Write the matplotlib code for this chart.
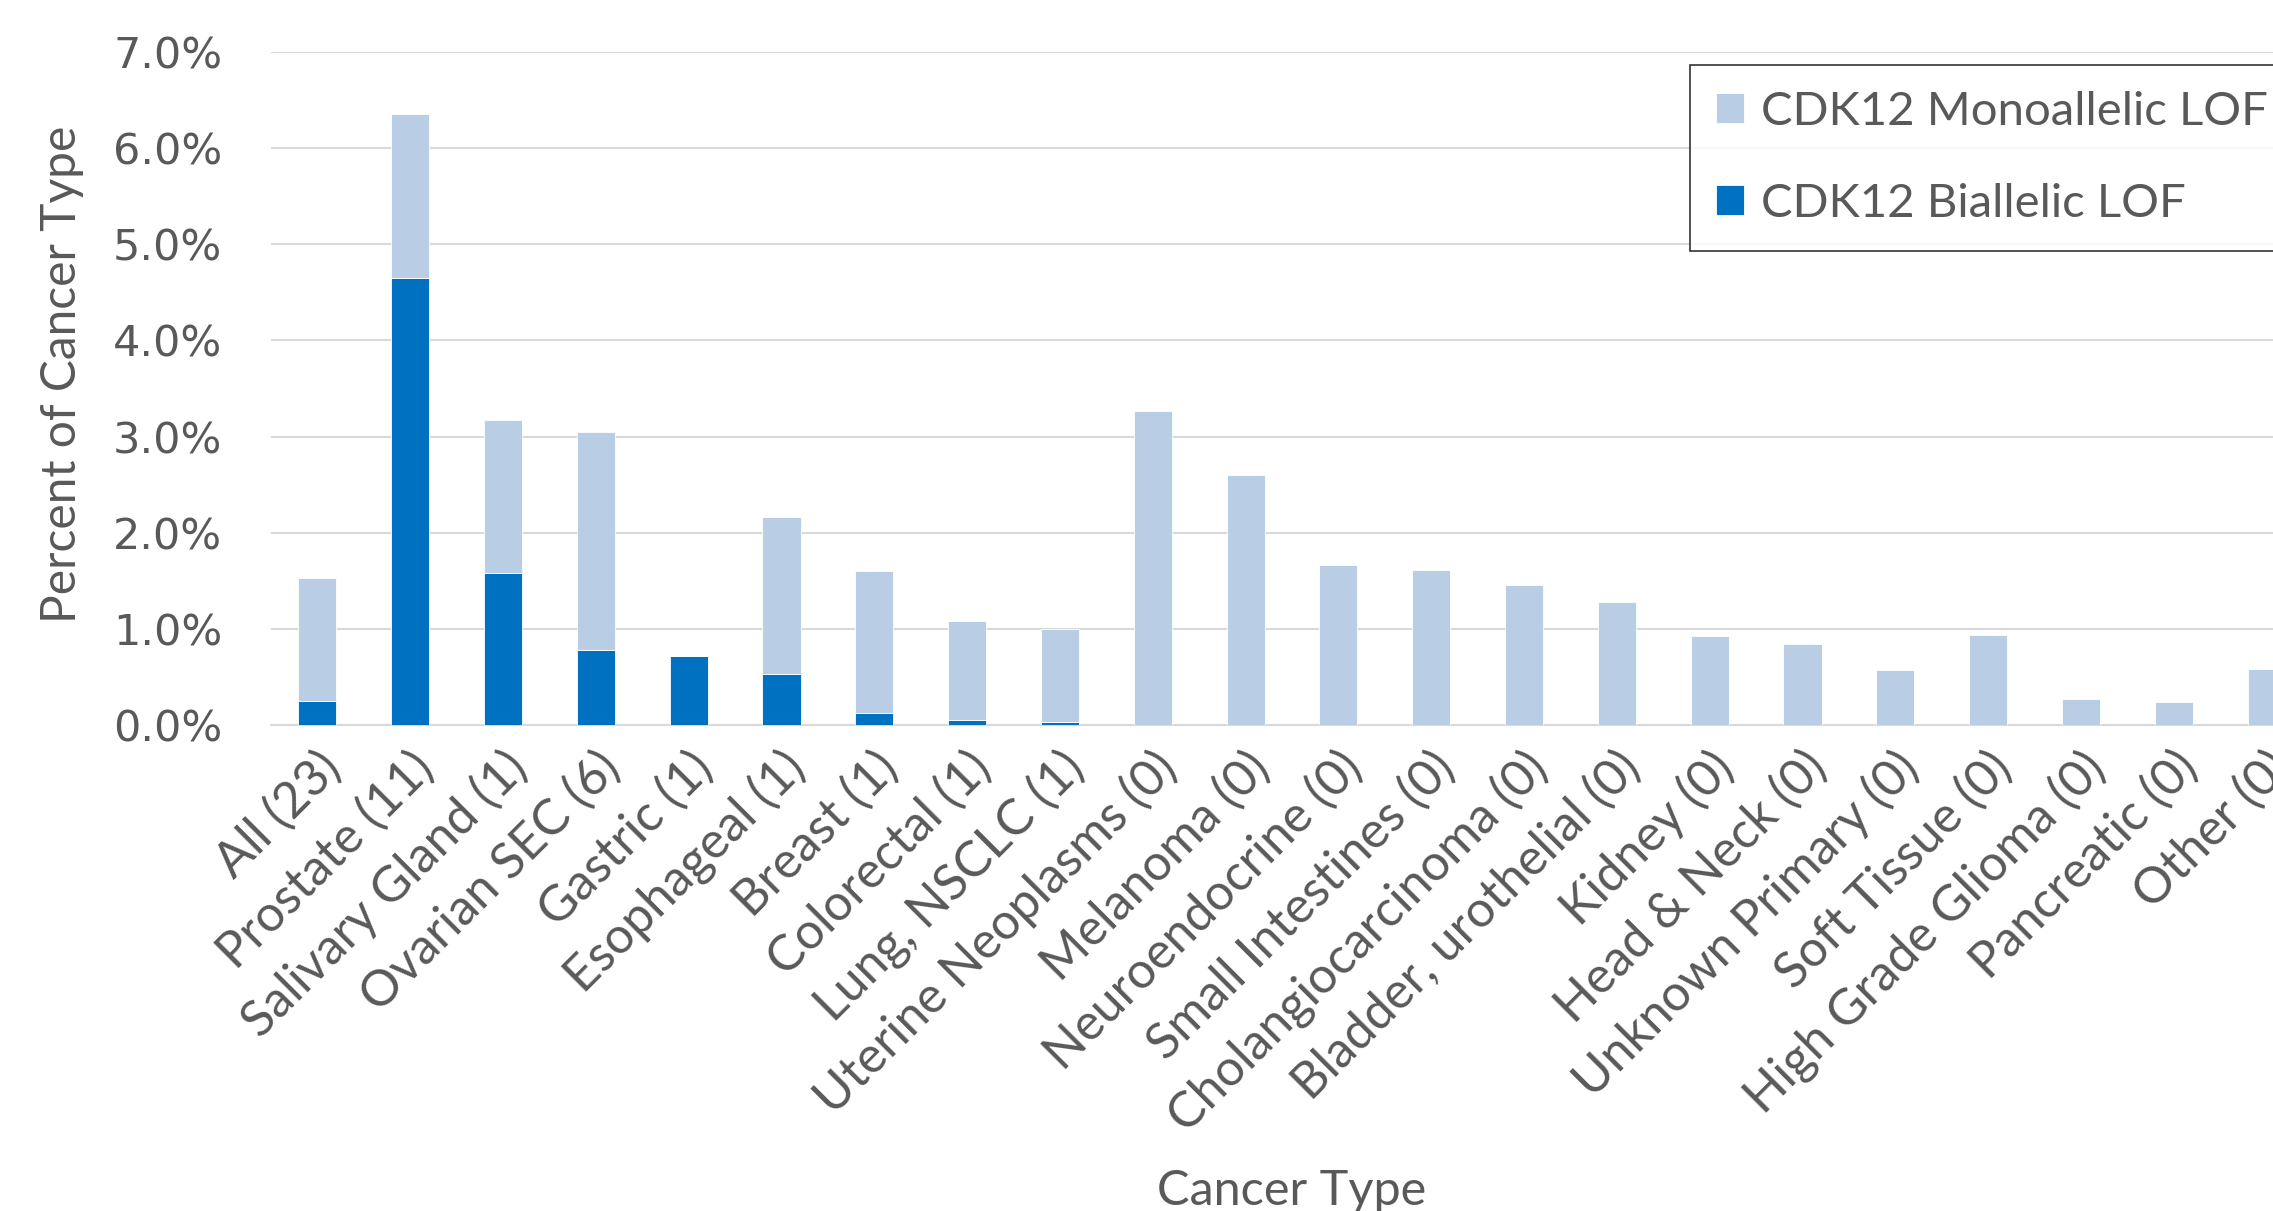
import matplotlib
matplotlib.use("Agg")
import matplotlib.pyplot as plt
import matplotlib.transforms as mtransforms
from matplotlib.ticker import PercentFormatter, MultipleLocator
import numpy as np

categories = ["All (23)", "Prostate (11)", "Salivary Gland (1)", "Ovarian SEC (6)",
              "Gastric (1)", "Esophageal (1)", "Breast (1)", "Colorectal (1)",
              "Lung, NSCLC (1)", "Uterine Neoplasms (0)", "Melanoma (0)",
              "Neuroendocrine (0)", "Small Intestines (0)", "Cholangiocarcinoma (0)",
              "Bladder, urothelial (0)", "Kidney (0)", "Head & Neck (0)",
              "Unknown Primary (0)", "Soft Tissue (0)", "High Grade Glioma (0)",
              "Pancreatic (0)", "Other (0)"]

# percent of each cancer type
biallelic = [0.245, 4.65, 1.58, 0.785, 0.72, 0.53, 0.12, 0.056, 0.035,
             0, 0, 0, 0, 0, 0, 0, 0, 0, 0, 0, 0, 0]
monoallelic = [1.285, 1.70, 1.59, 2.265, 0, 1.635, 1.485, 1.024, 0.96,
               3.27, 2.60, 1.665, 1.613, 1.456, 1.279, 0.923, 0.847,
               0.568, 0.934, 0.272, 0.244, 0.582]

BI_COLOR = "#0070C0"
MONO_COLOR = "#B9CDE5"
TXT = "#595959"
GRID = "#D9D9D9"
FONT = "Lato"

W, H = 2273, 1211
fig = plt.figure(figsize=(W / 100, H / 100), dpi=100)
# plot area runs a bit past the right edge of the figure
left, right, top, bottom = 271, 2313, 52, 725
ax = fig.add_axes([left / W, 1 - bottom / H, (right - left) / W, (bottom - top) / H])

x = np.arange(len(categories))
b1 = ax.bar(x, biallelic, width=0.41, color=BI_COLOR, edgecolor="white",
            linewidth=0.6, label="CDK12 Biallelic LOF", zorder=3)
b2 = ax.bar(x, monoallelic, width=0.41, bottom=biallelic, color=MONO_COLOR,
            edgecolor="white", linewidth=0.6, label="CDK12 Monoallelic LOF", zorder=3)

ax.set_xlim(-0.5, len(categories) - 0.5)
ax.set_ylim(0, 7)
ax.yaxis.set_major_locator(MultipleLocator(1))
ax.yaxis.set_major_formatter(PercentFormatter(100, decimals=1))
ax.grid(axis="y", color=GRID, linewidth=1.5, zorder=0)
for s in ["top", "right", "left"]:
    ax.spines[s].set_visible(False)
ax.spines["bottom"].set_color(GRID)
ax.spines["bottom"].set_linewidth(1.5)
ax.tick_params(axis="both", length=0)
ax.tick_params(axis="y", pad=35, labelsize=31, labelcolor=TXT)

ax.set_xticks(x)
ax.set_xticklabels(categories, rotation=45, ha="right", va="center",
                   rotation_mode="anchor", fontsize=36, color=TXT, family=FONT)
shift = mtransforms.ScaledTranslation(16 / 100, -30 / 100, fig.dpi_scale_trans)
for lab in ax.get_xticklabels():
    lab.set_transform(lab.get_transform() + shift)

fig.text(62 / W, 1 - 374 / H, "Percent of Cancer Type", rotation=90, ha="center",
         va="center", fontsize=34.5, color=TXT, family=FONT)
fig.text((left + right) / 2 / W, 6 / H, "Cancer Type", ha="center", va="baseline",
         fontsize=35, color=TXT, family=FONT)

# legend box is wider than the figure, so its right side is clipped
leg = ax.legend(handles=[b2, b1], loc="upper left", mode="expand",
                bbox_to_anchor=(1690 / W, 0, 700 / W, 1 - 65 / H),
                bbox_transform=fig.transFigure,
                prop={"family": FONT, "size": 34}, frameon=True, fancybox=False,
                edgecolor="black", handlelength=0.6, handleheight=0.6,
                handletextpad=0.35, labelspacing=1.05, borderpad=0.55, borderaxespad=0)
leg.get_frame().set_linewidth(1.2)
for t in leg.get_texts():
    t.set_color(TXT)

fig.savefig("out.png", dpi=100)
